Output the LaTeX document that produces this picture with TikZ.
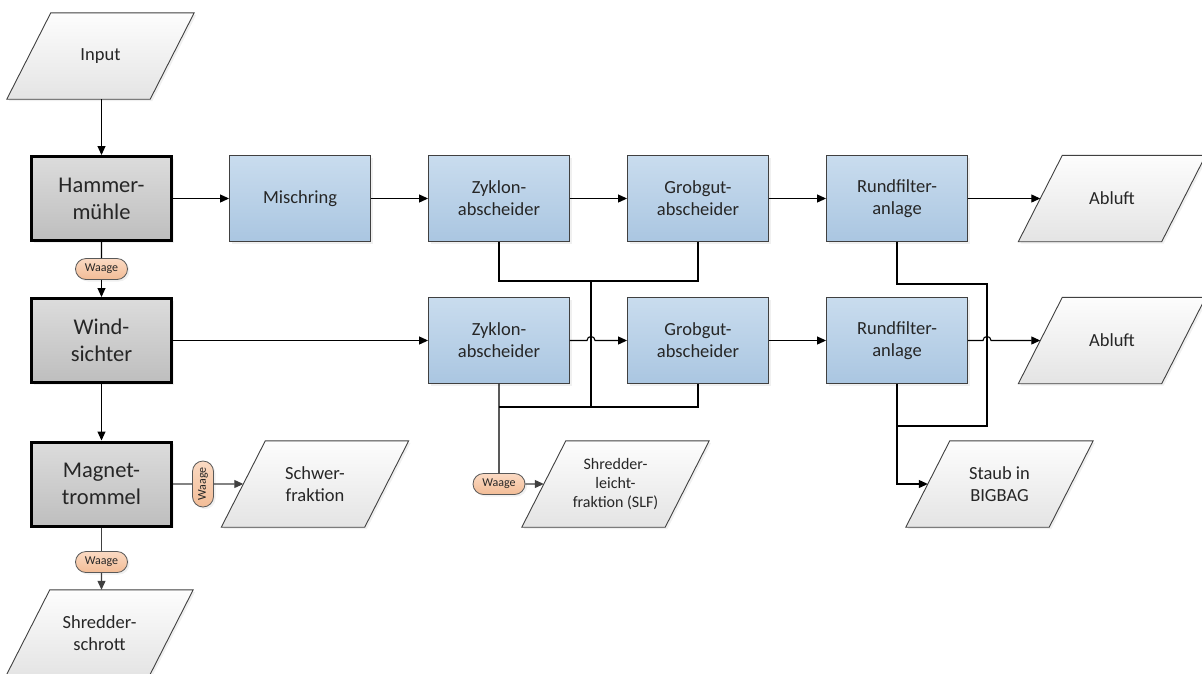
\documentclass[tikz,border=0pt]{standalone}
\usepackage{fontspec}
\setmainfont{Carlito}
\usetikzlibrary{shapes.misc,arrows.meta,calc,shadows,backgrounds}

\definecolor{blueTop}{RGB}{201,220,238}
\definecolor{blueBot}{RGB}{170,198,225}
\definecolor{grayTop}{RGB}{220,220,220}
\definecolor{grayBot}{RGB}{190,190,190}
\definecolor{ioTop}{RGB}{253,253,253}
\definecolor{ioBot}{RGB}{228,228,228}
\definecolor{wTop}{RGB}{251,218,195}
\definecolor{wBot}{RGB}{242,188,150}
\definecolor{edge}{RGB}{64,64,64}
\definecolor{ink}{RGB}{38,38,38}

\begin{document}
\begin{tikzpicture}[x=1pt,y=-1pt,
  font=\fontsize{18.5}{22}\selectfont,
  soft/.style={drop shadow={opacity=0.12,shadow xshift=2pt,shadow yshift=-2pt}},
  proc/.style={rectangle, draw=edge, line width=0.9pt, top color=blueTop,
    bottom color=blueBot, minimum width=141pt, minimum height=86pt,
    align=center, text=ink, inner sep=2pt, soft},
  machine/.style={rectangle, draw=black, line width=3pt, top color=grayTop,
    bottom color=grayBot, minimum width=140pt, minimum height=84pt,
    align=center, text=ink, inner sep=2pt, soft,
    font=\fontsize{22.5}{27}\selectfont},
  % text part of a data (parallelogram) symbol; the body is drawn behind it
  io/.style={rectangle, minimum width=143pt, minimum height=86pt,
    align=center, text=ink, inner sep=2pt},
  iobody/.style={draw=edge, line width=0.9pt, top color=ioTop,
    bottom color=ioBot, soft},
  weigh/.style={rounded rectangle, draw=gray!70!black, line width=0.8pt,
    top color=wTop, bottom color=wBot, minimum width=54pt,
    minimum height=21pt, inner sep=1pt, text=ink, soft,
    font=\fontsize{12}{14}\selectfont},
  link/.style={line width=1.1pt, draw=black},
  flow/.style={link, -{Triangle[length=9pt,width=8pt]}},
]
\useasboundingbox (0,0) rectangle (1202,673);

% machines on the left
\node[io] (input) at (100.5,56) {Input};
\node[machine] (hammer) at (101.5,198.5) {Hammer-\\mühle};
\node[machine] (wind) at (101.5,340.5) {Wind-\\sichter};
\node[machine] (magnet) at (101.5,484) {Magnet-\\trommel};

% upper line
\node[proc] (misch) at (300,198.5) {Mischring};
\node[proc] (zyk1) at (499,198.5) {Zyklon-\\abscheider};
\node[proc] (grob1) at (698,198.5) {Grobgut-\\abscheider};
\node[proc] (rund1) at (897,198.5) {Rundfilter-\\anlage};
\node[io] (abluft1) at (1112,198.5) {Abluft};

% lower line
\node[proc] (zyk2) at (499,340.5) {Zyklon-\\abscheider};
\node[proc] (grob2) at (698,340.5) {Grobgut-\\abscheider};
\node[proc] (rund2) at (897,340.5) {Rundfilter-\\anlage};
\node[io] (abluft2) at (1112,340.5) {Abluft};

% outputs
\node[io] (schwer) at (315,484) {Schwer-\\fraktion};
\node[io, font=\fontsize{16}{19}\selectfont] (slf) at (615.5,484)
  {Shredder-\\leicht-\\fraktion (SLF)};
\node[io] (staub) at (999.5,484) {Staub in\\BIGBAG};
\node[io] (schrott) at (99.5,633) {Shredder-\\schrott};

% parallelogram bodies of the data symbols
\begin{scope}[on background layer]
  \foreach \n in {input,abluft1,abluft2,schwer,slf,staub,schrott}
    \path[iobody] ($(\n.south west)+(-22,0)$) -- ($(\n.south east)+(-22,0)$)
      -- ($(\n.north east)+(22,0)$) -- ($(\n.north west)+(22,0)$) -- cycle;
\end{scope}

% scales
\node[weigh] (w1) at (101.5,269) {Waage};
\node[weigh, rotate=90, minimum width=48pt] (w2) at (203,484) {Waage};
\node[weigh] (w3) at (101.5,562) {Waage};
\node[weigh] (w4) at (499,484) {Waage};

% junction points of the return lines
\coordinate (up) at (591,281);
\coordinate (lo) at (591,407);
\coordinate (rl1) at (987,284);
\coordinate (rl2) at (987,426);
\coordinate (h1) at (zyk2.east -| up);
\coordinate (h2) at (rund2.east -| rl1);
\coordinate (h1a) at ($(h1)+(-4,0)$);
\coordinate (h1b) at ($(h1)+(4,0)$);
\coordinate (h2a) at ($(h2)+(-4,0)$);
\coordinate (h2b) at ($(h2)+(4,0)$);

% main flow
\draw[flow] (hammer.north |- input.south) -- (hammer.north);
\draw[flow] (hammer.east) -- (misch.west);
\draw[flow] (misch.east) -- (zyk1.west);
\draw[flow] (zyk1.east) -- (grob1.west);
\draw[flow] (grob1.east) -- (rund1.west);
\draw[flow] (rund1.east) -- (abluft1.west);

\draw[link] (hammer) -- (w1);
\draw[flow] (w1) -- (wind.north);
\draw[flow] (wind.east) -- (zyk2.west);
\draw[flow] (wind.south) -- (magnet.north);
\draw[flow] (zyk2.east) -- (h1a) to[out=90,in=90,looseness=1.7] (h1b) -- (grob2.west);
\draw[flow] (grob2.east) -- (rund2.west);
\draw[flow] (rund2.east) -- (h2a) to[out=90,in=90,looseness=1.7] (h2b) -- (abluft2.west);

% separated fractions
\draw[link, draw=edge] (magnet) -- (w2);
\draw[flow, draw=edge] (w2) -- (schwer.west);
\draw[link, draw=edge] (magnet) -- (w3);
\draw[flow, draw=edge] (w3) -- (w3 |- schrott.north);

\draw[link] (zyk1.south) |- (up) -| (grob1.south);
\draw[link] (up) -- (lo);
\draw[link] (zyk2.south |- lo) -| (grob2.south);
\draw[link] (zyk2) -- (w4);
\draw[flow, draw=edge] (w4) -- (slf.west);

\draw[link] (rund1.south) |- (rl1) -- (rl2) -| (rund2.south);
\draw[flow] (rund2.south) |- (staub.west);
\end{tikzpicture}
\end{document}
